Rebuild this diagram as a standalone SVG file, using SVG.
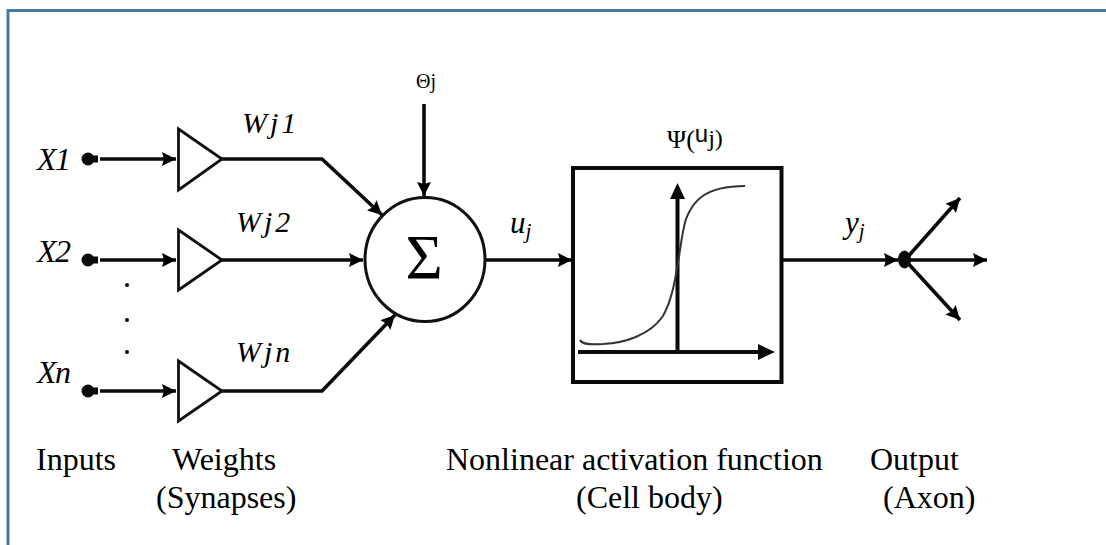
<svg xmlns="http://www.w3.org/2000/svg" width="1106" height="545" viewBox="0 0 1106 545">
<defs>
<marker id="a" markerUnits="userSpaceOnUse" markerWidth="16" markerHeight="16" refX="14" refY="7" orient="auto" viewBox="0 0 16 14"><path d="M0 0L14 7L0 14L2 7Z" fill="#000"/></marker>
</defs>
<style>
text{font-family:"Liberation Serif",serif;fill:#000}
.i{font-style:italic}
.l{font-size:32px}
.w{font-size:30px;font-style:italic;letter-spacing:3px}
.x{font-size:32px;font-style:italic;letter-spacing:-1.500px}
.c{fill:none;stroke:#0a0a0a;stroke-width:3.600}
.t{fill:#fff;stroke:#111;stroke-width:2.800}
.d{fill:#0a0a0a}
</style>
<rect width="1106" height="545" fill="#fff"/>
<path d="M8 545V10.500H1106" fill="none" stroke="#4678a8" stroke-width="3"/>
<g id="connectors">
<path class="c" d="M100 159H176" marker-end="url(#a)"/>
<path class="c" d="M100 260H176" marker-end="url(#a)"/>
<path class="c" d="M100 391H176" marker-end="url(#a)"/>
<path class="c" d="M222 159H322L382 215" marker-end="url(#a)"/>
<path class="c" d="M222 260H363" marker-end="url(#a)"/>
<path class="c" d="M222 391H322L395 315" marker-end="url(#a)"/>
<path class="c" d="M424 104V196" marker-end="url(#a)"/>
<path class="c" d="M484 260H572" marker-end="url(#a)"/>
<path class="c" d="M780 260H898" marker-end="url(#a)"/>
<path class="c" d="M905 260H987" marker-end="url(#a)"/>
<path class="c" d="M905 260L960 198" marker-end="url(#a)"/>
<path class="c" d="M905 260L960 320" marker-end="url(#a)"/>
</g>
<g id="input-x1"><circle class="d" cx="88" cy="159" r="6.500"/><path class="d" d="M88 155.500H98V162.500H88Z"/><text class="x" x="37" y="170">X1</text></g>
<g id="input-x2"><circle class="d" cx="88" cy="260" r="6.500"/><path class="d" d="M88 256.500H98V263.500H88Z"/><text class="x" x="37" y="262">X2</text></g>
<g id="input-xn"><circle class="d" cx="88" cy="391" r="6.500"/><path class="d" d="M88 387.500H98V394.500H88Z"/><text class="x" x="37" y="383">Xn</text></g>
<g id="ellipsis"><circle class="d" cx="127" cy="285" r="2"/><circle class="d" cx="127" cy="320" r="2"/><circle class="d" cx="127" cy="352" r="2"/></g>
<g id="weight-1"><path class="t" d="M178.500 129L222 159L178.500 190Z"/><text class="w" x="242" y="133">Wj1</text></g>
<g id="weight-2"><path class="t" d="M178.500 230L222 260L178.500 290Z"/><text class="w" x="236" y="232">Wj2</text></g>
<g id="weight-n"><path class="t" d="M178.500 361L222 391L178.500 421Z"/><text class="w" x="236" y="362">Wjn</text></g>
<g id="theta"><text x="416" y="88" font-size="20">Θj</text></g>
<g id="sum"><ellipse cx="425" cy="259.500" rx="60" ry="62" fill="#fff" stroke="#111" stroke-width="3"/><text x="424" y="279" font-size="64" text-anchor="middle">Σ</text></g>
<g id="uj"><text x="510" y="233" font-size="31" class="i">u<tspan font-size="21" dy="5">j</tspan></text></g>
<g id="activation">
<rect x="573" y="168" width="208.500" height="214" fill="#fff" stroke="#0a0a0a" stroke-width="4"/>
<path class="c" d="M578 352H764" style="stroke-width:4"/><path class="d" d="M758 344L775 352L758 360Z"/>
<path class="c" d="M677.500 352V195" style="stroke-width:4"/><path class="d" d="M670 199L677.500 183L685 199Z"/>
<path d="M580 340C583 346 596 344 603 344C625 343 650 335 663 316C672 300 675 280 678 263C681 245 682 232 686 219C692 203 703 186 745 186" fill="none" stroke="#333" stroke-width="2"/>
<text x="667" y="148" font-size="26">Ψ(<tspan font-size="24" font-family="Liberation Sans" dy="-6">u</tspan><tspan font-size="24" dy="4">j)</tspan></text>
</g>
<g id="yj"><text x="845" y="233" font-size="31" class="i">y<tspan font-size="21" dy="5">j</tspan></text></g>
<g id="output"><ellipse class="d" cx="904.500" cy="259.500" rx="6.500" ry="9"/></g>
<g id="captions">
<text class="l" x="36" y="470">Inputs</text>
<text class="l" x="172" y="470">Weights</text>
<text class="l" x="156" y="508">(Synapses)</text>
<text class="l" x="446" y="470">Nonlinear activation function</text>
<text class="l" x="576" y="508">(Cell body)</text>
<text class="l" x="870" y="470">Output</text>
<text class="l" x="883" y="508">(Axon)</text>
</g>
</svg>
